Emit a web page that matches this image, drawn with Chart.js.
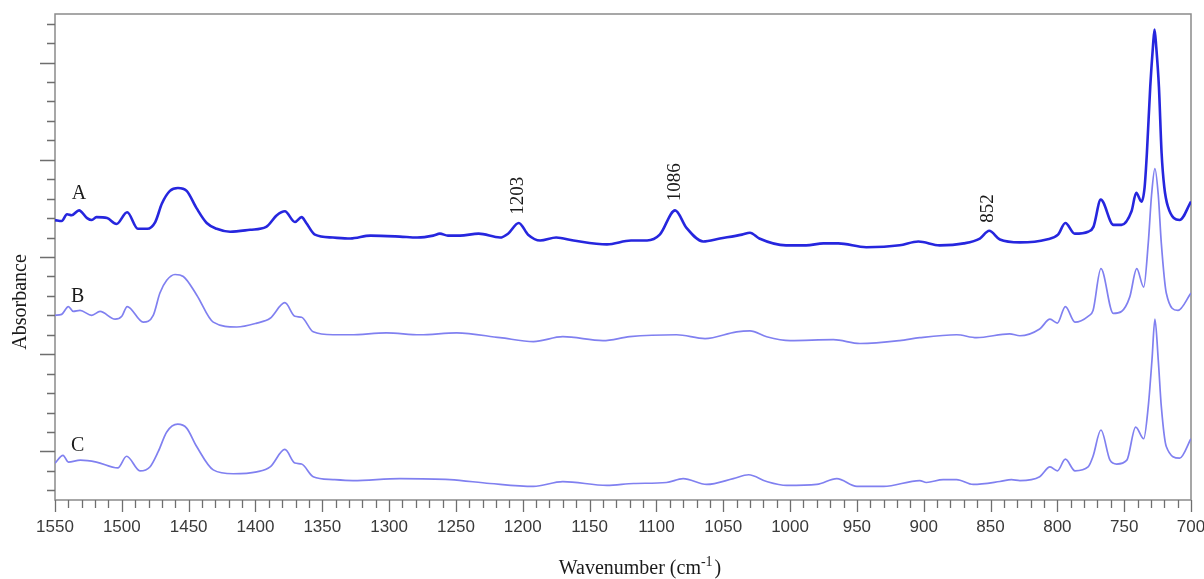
<!DOCTYPE html>
<html>
<head>
<meta charset="utf-8">
<script src="https://cdn.jsdelivr.net/npm/chart.js@4.4.1/dist/chart.umd.min.js"></script>
<style>
    html, body { margin: 0; padding: 0; background: #fff; }
    #wrap { width: 1204px; height: 579px; position: relative; }
</style>
</head>
<body>
<div id="wrap"><canvas id="spectrum"></canvas></div>
<script>
// ----- D A T A (wavenumber in cm-1, absorbance in arbitrary offset units)
const wnA = [1550, 1545, 1541, 1537.5, 1532, 1526, 1522.5, 1519, 1511, 1504, 1496, 1488, 1481, 1475, 1470, 1464, 1458, 1451.5, 1444, 1436.5,
    1429, 1419, 1404, 1392, 1384, 1378, 1370.5, 1365.5, 1362, 1355.5, 1342, 1329, 1314, 1292, 1279, 1267, 1262, 1256, 1247, 1233,
    1217, 1211, 1203, 1196, 1187, 1175, 1162, 1137, 1119, 1107, 1097.5, 1086, 1077.5, 1065, 1052.5, 1036, 1030, 1023, 1003, 988,
    975, 964, 943, 918, 904, 888, 870, 858, 851, 843, 828, 808, 799.5, 794, 787, 777, 773, 767.5, 758, 752,
    744.5, 741, 737, 734.7, 733, 730.5, 728.5, 727.3, 726, 724, 722, 720, 717.3, 708.5, 700];
const absA = [2.38, 2.37, 2.44, 2.43, 2.48, 2.40, 2.38, 2.41, 2.40, 2.34, 2.46, 2.29, 2.29, 2.36, 2.55, 2.68, 2.71, 2.68, 2.50, 2.35,
    2.29, 2.26, 2.28, 2.31, 2.43, 2.47, 2.36, 2.41, 2.35, 2.23, 2.20, 2.19, 2.22, 2.21, 2.20, 2.22, 2.24, 2.22, 2.22, 2.24,
    2.20, 2.24, 2.35, 2.23, 2.17, 2.20, 2.17, 2.13, 2.17, 2.17, 2.23, 2.48, 2.30, 2.16, 2.19, 2.23, 2.25, 2.19, 2.12, 2.12,
    2.14, 2.14, 2.10, 2.12, 2.16, 2.12, 2.14, 2.19, 2.27, 2.18, 2.15, 2.18, 2.23, 2.35, 2.24, 2.26, 2.31, 2.59, 2.33, 2.33,
    2.47, 2.66, 2.57, 2.72, 3.07, 3.75, 4.16, 4.34, 4.16, 3.75, 3.07, 2.72, 2.52, 2.38, 2.57];

const wnB = [1550, 1545, 1540, 1536.3, 1531.3, 1522.5, 1516.3, 1505, 1500, 1496, 1484, 1476.5, 1471.5, 1466.4, 1460.2, 1454, 1444, 1431.6, 1414, 1399,
    1389, 1378, 1370.5, 1365.5, 1356.8, 1342, 1329, 1302, 1277, 1249.5, 1217, 1192, 1170, 1140, 1120, 1085, 1063.6, 1040, 1030, 1017.5,
    1000, 967.6, 947.7, 918, 903, 875.4, 860.4, 835.7, 828, 813.2, 805.5, 800, 794, 786.8, 777, 773.3, 767.4, 758.2, 752, 745.8,
    740.6, 735.4, 732, 729.5, 727, 724.5, 722.2, 718.5, 709.8, 700];
const absB = [1.40, 1.41, 1.49, 1.44, 1.45, 1.40, 1.44, 1.36, 1.39, 1.49, 1.33, 1.40, 1.63, 1.76, 1.82, 1.80, 1.61, 1.33, 1.28, 1.32,
    1.37, 1.53, 1.39, 1.38, 1.23, 1.20, 1.20, 1.22, 1.20, 1.22, 1.17, 1.13, 1.18, 1.14, 1.18, 1.20, 1.16, 1.23, 1.24, 1.18,
    1.14, 1.15, 1.11, 1.14, 1.17, 1.20, 1.17, 1.21, 1.19, 1.26, 1.36, 1.32, 1.49, 1.33, 1.39, 1.45, 1.88, 1.42, 1.44, 1.59,
    1.88, 1.69, 2.14, 2.64, 2.91, 2.64, 2.14, 1.63, 1.45, 1.63];

const wnC = [1550, 1544, 1540, 1531, 1519, 1503, 1496.4, 1486.4, 1479, 1472.7, 1466.4, 1458.2, 1451.5, 1444, 1431.6, 1416.6, 1399, 1389, 1378, 1370.5,
    1365.5, 1356.8, 1342, 1327, 1292, 1254.5, 1224.6, 1192, 1170, 1137, 1117, 1092.5, 1080, 1062.4, 1042.5, 1031, 1017.5, 1002.5, 980, 965,
    950, 930, 903, 898, 885.4, 875.4, 863, 843, 834.3, 828, 813.2, 805.5, 800, 794, 786.8, 777, 773.3, 767.4, 760.6, 755.6,
    748, 741.4, 735.4, 732, 729.2, 727, 724.5, 722.2, 718.5, 708.5, 700];
const absC = [-0.12, -0.04, -0.11, -0.09, -0.11, -0.17, -0.05, -0.20, -0.16, 0.00, 0.20, 0.28, 0.24, 0.05, -0.19, -0.23, -0.21, -0.16, 0.02, -0.12,
    -0.13, -0.26, -0.29, -0.30, -0.28, -0.29, -0.33, -0.36, -0.31, -0.35, -0.33, -0.32, -0.28, -0.34, -0.28, -0.24, -0.31, -0.35, -0.34, -0.28,
    -0.36, -0.36, -0.30, -0.32, -0.29, -0.29, -0.34, -0.31, -0.29, -0.30, -0.26, -0.16, -0.20, -0.08, -0.20, -0.16, -0.05, 0.22, -0.09, -0.13,
    -0.09, 0.25, 0.13, 0.46, 0.94, 1.36, 0.94, 0.46, 0.05, -0.07, 0.13];

// trace letters and marked peaks (text, wavenumber, absorbance)
const traceLabels = ["A", "B", "C"];
const traceLabelX = [1532, 1533, 1533];
const traceLabelY = [2.65, 1.59, 0.06];
const peakLabels = ["1203", "1086", "852"];
const peakLabelX = [1203.5, 1086, 852];
const peakLabelY = [2.63, 2.77, 2.50];

const
    SERIF = "'Liberation Serif', 'Times New Roman', serif",
    SANS = "'Liberation Sans', Arial, sans-serif";

const toPoints = (xs, ys) => xs.map((v, i) => ({ x: v, y: ys[i] }));

/**
 * frame, tick marks and text drawn from the chart scales
 */
const decorPlugin = {
    id: "decor",
    beforeDatasetsDraw(chart) {
        const { ctx, chartArea: a, scales: { x, y } } = chart;
        ctx.save();
        ctx.strokeStyle = "#8a8a8a";
        ctx.lineWidth = 1.5;
        ctx.strokeRect(a.left, a.top, a.right - a.left, a.bottom - a.top);

        ctx.strokeStyle = "#6e6e6e";
        ctx.lineWidth = 1.3;
        ctx.beginPath();
        // x ticks every 10, long every 50
        for (let v = 700; v <= 1550; v += 10) {
            const px = Math.round(x.getPixelForValue(v)) + 0.5;
            const len = v % 50 === 0 ? 12 : 8;
            ctx.moveTo(px, a.bottom);
            ctx.lineTo(px, a.bottom + len);
        }
        // y ticks every 0.2, long at integers
        for (let i = -2; i <= 22; i++) {
            const py = Math.round(y.getPixelForValue(i / 5)) + 0.5;
            const len = i % 5 === 0 ? 15 : 8;
            ctx.moveTo(a.left, py);
            ctx.lineTo(a.left - len, py);
        }
        ctx.stroke();
        ctx.restore();
    },
    afterDraw(chart) {
        const { ctx, scales: { x, y } } = chart;
        ctx.save();
        ctx.fillStyle = "#1a1a1a";
        ctx.textAlign = "center";
        ctx.textBaseline = "middle";

        ctx.font = "20px " + SERIF;
        traceLabels.forEach((t, i) => {
            ctx.fillText(t, x.getPixelForValue(traceLabelX[i]), y.getPixelForValue(traceLabelY[i]));
        });

        ctx.font = "19px " + SERIF;
        peakLabels.forEach((t, i) => {
            ctx.save();
            ctx.translate(x.getPixelForValue(peakLabelX[i]), y.getPixelForValue(peakLabelY[i]));
            ctx.rotate(-Math.PI / 2);
            ctx.fillText(t, 0, 0);
            ctx.restore();
        });

        // y axis title
        ctx.save();
        ctx.font = "20px " + SERIF;
        ctx.translate(21, 302);
        ctx.rotate(-Math.PI / 2);
        ctx.fillText("Absorbance", 0, 0);
        ctx.restore();

        // x axis title with superscript
        const main = "Wavenumber (cm", sup = "-1", tail = ")";
        ctx.font = "20px " + SERIF;
        const wMain = ctx.measureText(main).width, wTail = ctx.measureText(tail).width;
        ctx.font = "14px " + SERIF;
        const wSup = ctx.measureText(sup).width;
        let cx = 640 - (wMain + wSup + 2 + wTail) / 2;
        const cy = 569;
        ctx.textAlign = "left";
        ctx.font = "20px " + SERIF;
        ctx.fillText(main, cx, cy);
        cx += wMain;
        ctx.font = "14px " + SERIF;
        ctx.fillText(sup, cx, cy - 7);
        cx += wSup + 2;
        ctx.font = "20px " + SERIF;
        ctx.fillText(tail, cx, cy);
        ctx.restore();
    }
};

const config = {
    type: "scatter",
    data: {
        datasets: [{
            label: "A",
            data: toPoints(wnA, absA),
            showLine: true,
            borderColor: "rgb(38, 38, 222)",
            borderWidth: 2.6,
            pointRadius: 0,
            cubicInterpolationMode: "monotone",
        }, {
            label: "B",
            data: toPoints(wnB, absB),
            showLine: true,
            borderColor: "rgb(128, 128, 240)",
            borderWidth: 1.7,
            pointRadius: 0,
            cubicInterpolationMode: "monotone",
        }, {
            label: "C",
            data: toPoints(wnC, absC),
            showLine: true,
            borderColor: "rgb(128, 128, 240)",
            borderWidth: 1.7,
            pointRadius: 0,
            cubicInterpolationMode: "monotone",
        }],
    },
    options: {
        responsive: true,
        maintainAspectRatio: false,
        animation: false,
        layout: {
            autoPadding: false,
            padding: { left: 55, right: 13, top: 14, bottom: 39 },
        },
        plugins: {
            legend: { display: false },
            tooltip: { enabled: false },
            title: { display: false },
        },
        scales: {
            x: {
                type: "linear",
                reverse: true,
                min: 700,
                max: 1550,
                grid: { display: false },
                border: { display: false },
                ticks: {
                    stepSize: 50,
                    padding: 9,
                    color: "#3a3a3a",
                    font: { family: SANS, size: 17 },
                    maxRotation: 0,
                    autoSkip: false,
                    callback: (v) => String(v),
                },
                afterFit: (scale) => {
                    scale.height = 40;
                    scale.paddingLeft = 0;
                    scale.paddingRight = 0;
                },
            },
            y: {
                display: false,
                min: -0.5,
                max: 4.5,
            },
        },
    },
    plugins: [decorPlugin],
};

window.spectrumChart = new Chart(document.getElementById("spectrum"), config);
</script>
</body>
</html>
